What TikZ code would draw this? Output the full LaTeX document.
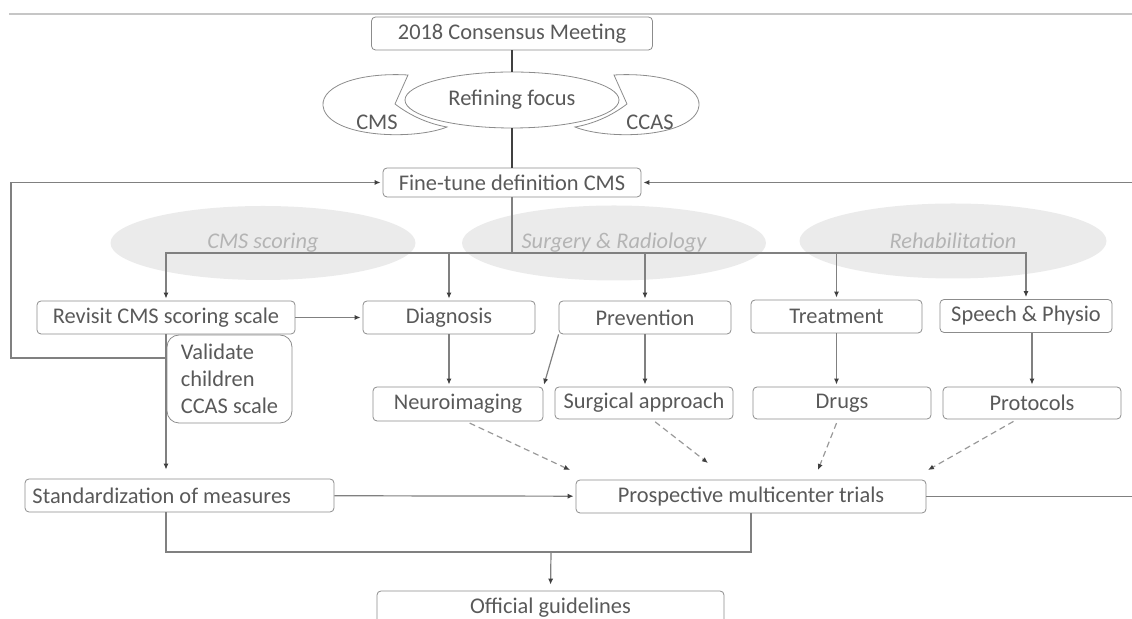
\documentclass[tikz,border=0pt]{standalone}
\usepackage{fontspec}
\setmainfont{Carlito}
\usetikzlibrary{arrows.meta, positioning, shapes.geometric}

\definecolor{boxgray}{HTML}{8C8C8C}
\definecolor{txtgray}{HTML}{595959}
\definecolor{linegray}{HTML}{808080}
\definecolor{bggray}{HTML}{EBEBEB}
\definecolor{softgray}{HTML}{B4B4B4}

\begin{document}
\begin{tikzpicture}[
  x=0.5pt, y=-0.5pt,
  font=\fontsize{11.2}{13.5}\selectfont,
  box/.style = {draw=boxgray, rounded corners=2pt, text=txtgray, minimum height=16.5pt, inner sep=2pt, align=center},
  blob/.style = {ellipse, fill=bggray, text=softgray, font=\fontsize{11.2}{13.5}\selectfont\itshape, inner sep=0pt},
  arrow/.style = {-{Latex[length=3pt, width=2.6pt, color=black!75]}, draw=linegray, line width=0.6pt, shorten >=1pt},
  link/.style = {draw=linegray, line width=0.6pt},
  dasharrow/.style = {arrow, draw=black!40, dash pattern=on 3pt off 2pt, shorten >=0pt, shorten <=2pt},
  stem/.style = {draw=black!75, line width=0.7pt}
]
\useasboundingbox (0,0) rectangle (1132,619);

% Background groups
\node[blob, minimum width=152.5pt, minimum height=37pt] (scoring) at (263,243) {CMS scoring};
\node[blob, minimum width=152pt, minimum height=37.5pt] (surgery) at (614,243) {Surgery \& Radiology};
\node[blob, minimum width=153.5pt, minimum height=37.5pt] (rehab) at (953,241) {Rehabilitation};

% Top rule
\draw[gray!45, line width=1pt] (9,14) -- (1132,14);

% Nodes for the consensus
\node[box, minimum width=140.5pt] (meeting) at (512,33.5) {2018 Consensus Meeting};
\draw[draw=boxgray, fill=white] (408,75) -- (395,104) .. controls (412,117) and (430,124) .. (447,127)
  .. controls (415,140) and (335,138) .. (324,110) .. controls (316,88) and (355,72) .. (408,75) -- cycle;
\draw[draw=boxgray, fill=white] (614,75) -- (627,104) .. controls (610,117) and (592,124) .. (575,127)
  .. controls (607,140) and (687,138) .. (698,110) .. controls (706,88) and (667,72) .. (614,75) -- cycle;
\node[text=txtgray] (cms) at (377,122) {CMS};
\node[text=txtgray] (ccas) at (650,122) {CCAS};
\node[ellipse, draw=boxgray, fill=white, text=txtgray, minimum width=107pt, minimum height=28pt, inner sep=0pt] (focus) at (512,100) {Refining focus};
\node[box, minimum width=129pt, minimum height=14.5pt] (fine) at (512,182.5) {Fine-tune definition CMS};

% Nodes for the topics
\node[box, minimum width=129pt] (revisit) at (166,317.5) {Revisit CMS scoring scale};
\node[box, minimum width=86pt] (diag) at (449,317.5) {Diagnosis};
\node[box, minimum width=86pt] (prev) at (645,317.5) {Prevention};
\node[box, minimum width=85.5pt] (treat) at (836.5,316.5) {Treatment};
\node[box, minimum width=86pt] (speech) at (1026,316) {Speech \& Physio};

% Nodes for the outcomes
\node[box, rounded corners=6pt, minimum width=62.5pt, minimum height=44pt, align=left] (valid) at (229.5,379) {Validate\\children\\CCAS scale};
\node[box, minimum width=85pt, minimum height=17pt] (neuro) at (458,404) {Neuroimaging};
\node[box, minimum width=89pt, minimum height=16pt] (surg) at (644,403) {Surgical approach};
\node[box, minimum width=89pt, minimum height=16pt] (drugs) at (842,403) {Drugs};
\node[box, minimum width=89pt, minimum height=16pt] (proto) at (1032,403) {Protocols};
\node[box, text width=147pt, align=flush left, inner xsep=3.75pt] (stand) at (179.5,495.5) {Standardization of measures};
\node[box, minimum width=175pt] (prosp) at (751,496.5) {Prospective multicenter trials};
\node[box, minimum width=173.5pt] (official) at (550.5,607.5) {Official guidelines};

% Free ends
\coordinate (loopL) at (11,358);
\coordinate (loopR) at (1132,182.5);
\coordinate (outR) at (1132,496.5);
\coordinate (split) at (512,253);
\coordinate (merge) at (551,552);
\coordinate (d1) at (570,470);
\coordinate (d2) at (708,463);
\coordinate (d3) at (818,470);
\coordinate (d4) at (928,470);

% Arrows consensus
\draw[stem] (meeting) -- (focus);
\draw[stem] (focus) -- (fine);
\draw[arrow] (revisit.south |- loopL) -- (loopL) |- (fine.west);
\draw[arrow] (loopR) -- (fine.east);

% Arrows topics
\draw[link] (fine.south) -- (split);
\draw[arrow] (split) -| (revisit.north);
\draw[arrow] (split) -| (diag.north);
\draw[arrow] (split) -| (prev.north);
\draw[arrow] (split) -| (treat.north);
\draw[arrow] (split) -| (speech.north);
\draw[arrow] (revisit) -- (diag);
\draw[arrow] (diag.south) -- (diag.south |- neuro.north);
\draw[arrow] (prev.south west) -- (neuro.north east);
\draw[arrow] (prev.south) -- (prev.south |- surg.north);
\draw[arrow] (treat.south) -- (treat.south |- drugs.north);
\draw[arrow] (speech.south -| proto.north) -- (proto.north);

% Arrows outcomes
\draw[arrow, shorten >=4.5pt] (revisit.south) -- (revisit.south |- stand.north);
\draw[arrow] (stand) -- (prosp);
\draw[link] (prosp.east) -- (outR);
\draw[dasharrow] ([xshift=4pt]neuro.south) -- (d1);
\draw[dasharrow] ([xshift=4pt]surg.south) -- (d2);
\draw[dasharrow] ([xshift=-2pt]drugs.south) -- (d3);
\draw[dasharrow] ([xshift=-7.5pt]proto.south) -- (d4);
\draw[link] (stand.south -| revisit.south) |- (merge) -| (prosp.south);
\draw[arrow, shorten >=3pt] (merge) -- (official.north);
\end{tikzpicture}
\end{document}
